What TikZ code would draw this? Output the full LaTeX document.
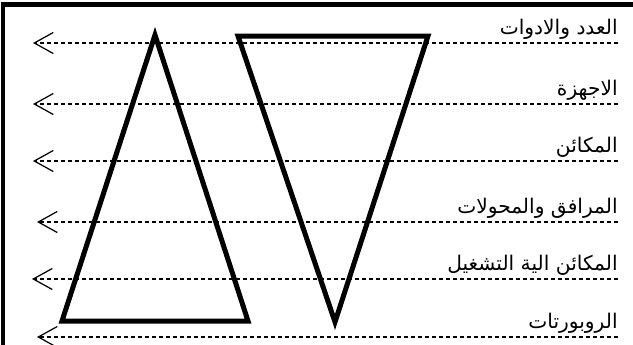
\documentclass[tikz,border=0pt]{standalone}
\usepackage{fontspec}
\newfontfamily\arabicfont[Script=Arabic]{DejaVu Sans}
\TeXXeTstate=1
\usetikzlibrary{arrows.meta}
\tikzset{
  edge/.style={line width=0.1cm},
  guide/.style={line width=0.7pt, dash pattern=on 0.09cm off 0.05cm,
    -{Straight Barb[length=0.38cm,width=0.42cm,line width=0.7pt]}},
  tag/.style={anchor=south east, inner xsep=0pt, inner ysep=2pt,
    font=\arabicfont\fontsize{11.5}{13}\selectfont}
}

\begin{document}
\begin{tikzpicture}[x=0.02cm,y=-0.02cm]
  \useasboundingbox (0,0) rectangle (633,345);
  % frame
  \draw[edge] (3,345) -- (3,4) -- (633,4);
  % triangles
  \draw[edge] (155,35) -- (248,321) -- (62,321) -- cycle;
  \draw[edge] (238,36) -- (428,36) -- (335,322) -- cycle;
  % guide lines and their labels
  \foreach \y/\xl/\t [count=\i] in {
      43/33/{العدد والادوات},
      104/33/{الاجهزة},
      161/33/{المكائن},
      222/37/{المرافق والمحولات},
      279/32/{المكائن الية التشغيل},
      337/37/{الروبورتات}} {
    \coordinate (r\i) at (618,\y);
    \coordinate (l\i) at (\xl,\y);
    \node[tag] (t\i) at (r\i) {\beginR\t\endR};
    \draw[guide] (r\i) -- (l\i);
  }
\end{tikzpicture}
\end{document}
